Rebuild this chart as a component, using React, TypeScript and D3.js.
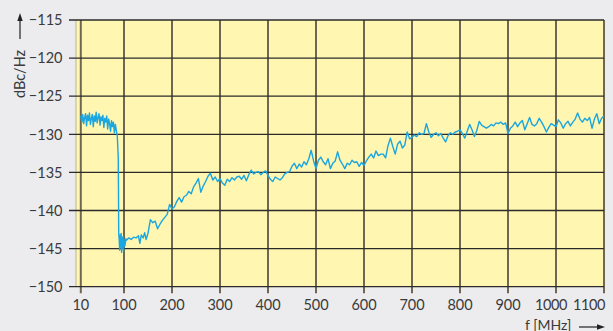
import React from "react";
import * as d3 from "d3";

const xTicks = [10, 100, 200, 300, 400, 500, 600, 700, 800, 900, 1000, 1100];
const yTicks = [-115, -120, -125, -130, -135, -140, -145, -150];

const freqMHz = [
  10, 12, 14, 16, 18, 20, 22, 24, 26, 28, 30, 32, 34, 36, 38, 40, 42, 44, 46, 48,
  50, 52, 54, 56, 58, 60, 62, 64, 66, 68, 70, 72, 74, 76, 78, 80, 82, 84,
  86, 87, 88, 88.5, 89, 90, 91, 92, 93, 94, 95, 96, 97, 98, 99, 100, 102, 104,
  105, 110, 115, 120, 125, 130, 133, 136, 140, 143, 146,
  150, 155, 160, 165, 170, 175, 180, 185, 190, 195, 200, 205, 210, 215, 220, 225, 230, 235, 240, 245,
  250, 255, 260, 265, 270, 275, 280, 285, 290, 295, 300, 305, 310, 315, 320, 325, 330, 335, 340, 345,
  350, 355, 360, 365, 370, 375, 380, 385, 390, 395, 400, 405, 410, 415, 420, 425, 430, 435, 440, 445,
  450, 455, 460, 465, 470, 475, 480, 485, 490, 495, 500, 505, 510, 515, 520, 525, 530, 535, 540, 545,
  550, 555, 560, 565, 570, 575, 580, 585, 590, 595, 600, 605, 610, 615, 620, 625, 630, 635, 640, 645,
  650, 655, 660, 665, 670, 675, 680, 685, 690, 695, 700, 705, 710, 715, 720, 725, 730, 735, 740, 745,
  750, 755, 760, 765, 770, 775, 780, 785, 790, 795, 800, 805, 810, 815, 820, 825, 830, 835, 840, 845,
  850, 855, 860, 865, 870, 875, 880, 885, 890, 895, 900, 905, 910, 915, 920, 925, 930, 935, 940, 945,
  950, 955, 960, 965, 970, 975, 980, 985, 990, 995, 1000, 1005, 1010, 1015, 1020, 1025, 1030, 1035, 1040, 1045,
  1050, 1055, 1060, 1065, 1070, 1075, 1080, 1085, 1090, 1095, 1100,
];

const noiseDbcHz = [
  -127.6, -128.4, -127.4, -128.6, -127.8, -127.3, -128.9, -127.5, -128.2, -127.2, -128.7, -127.9, -127.4, -129.0, -127.6, -128.3, -127.1, -128.5, -127.8, -127.3,
  -128.8, -127.7, -128.2, -127.5, -129.1, -127.9, -128.4, -127.6, -129.3, -128.0, -128.6, -129.6, -128.2, -129.0, -128.4, -129.8, -128.7, -129.5,
  -130.2, -131.5, -133.0, -137.0, -143.0, -143.8, -145.2, -143.2, -144.8, -143.0, -145.5, -143.6, -144.9, -143.4, -145.3, -143.8, -144.6, -143.7,
  -143.9, -143.6, -143.8, -143.5, -143.6, -143.3, -144.3, -143.2, -143.6, -142.9, -143.8,
  -143.0, -141.2, -141.6, -141.4, -142.4, -141.8, -141.3, -140.9, -140.5, -139.2, -139.8, -139.5, -138.8, -138.3, -138.9, -138.2, -138.0, -137.5, -137.8, -136.9,
  -136.4, -135.8, -137.6, -136.8, -136.2, -135.5, -135.1, -136.0, -135.6, -136.2, -135.8, -136.4, -136.7, -135.9, -136.2, -135.7, -136.0, -135.6, -135.5, -135.9,
  -135.4, -136.1, -135.3, -134.7, -135.2, -135.0, -134.9, -135.3, -135.0, -134.8, -135.4, -135.9, -136.2, -135.6, -135.8, -136.0, -135.7, -135.2, -135.0, -134.9,
  -134.2, -133.8, -134.5, -133.9, -134.3, -133.6, -134.0, -133.2, -132.1, -133.5, -134.5, -133.4, -133.0, -133.6, -134.0, -133.2, -134.5, -133.8, -133.5, -132.3,
  -133.4, -133.9, -134.5, -133.8, -134.0, -133.4, -133.7, -133.6, -134.2, -133.7, -134.1, -133.5, -133.0, -132.6, -133.1, -132.2, -132.8, -132.6, -132.6, -133.1,
  -131.5, -130.5, -131.6, -132.6, -131.3, -130.9, -131.8, -131.4, -129.7, -130.6, -130.4, -130.1, -130.3, -129.8, -130.0, -129.9, -128.6, -129.7, -130.4, -130.0,
  -129.8, -130.2, -129.9, -130.5, -131.0, -130.2, -129.8, -130.0, -129.7, -129.6, -129.4, -129.9, -130.5, -129.6, -128.7, -129.4, -130.3, -129.5, -128.3, -128.8,
  -129.0, -129.2, -129.0, -128.7, -128.9, -128.5, -128.6, -128.4, -128.7, -128.5, -129.9, -129.2, -128.9, -128.4, -129.0, -128.5, -128.2, -129.4, -128.6, -127.8,
  -128.7, -128.9, -128.6, -127.9, -128.4, -129.0, -129.7, -129.1, -128.6, -128.8, -129.0, -128.1, -128.5, -129.2, -128.6, -128.3, -128.9, -128.4, -128.0, -127.2,
  -128.0, -128.4, -127.9, -128.2, -127.8, -129.2, -128.0, -127.3, -128.6, -127.9, -127.6,
];

const W = 613;
const H = 331;
const plot = { left: 76, right: 604, top: 20, bottom: 286.7 };
const FONT = "Lato, 'Open Sans', sans-serif";

export default function App() {
  const x = d3.scaleLinear().domain([0, 1100]).range([plot.left, plot.right]);
  const y = d3.scaleLinear().domain([-150, -115]).range([plot.bottom, plot.top]);
  const pts = freqMHz.map((f, i) => [f, noiseDbcHz[i]] as [number, number]);
  const line = d3
    .line<[number, number]>()
    .x((d) => x(d[0]))
    .y((d) => y(d[1]));
  const n = xTicks.length;

  const labelX = (t: number, i: number) =>
    i === n - 1 ? x(t) + 1 : i === n - 2 ? x(t) - 5 : x(t);

  return (
    <svg
      width={W}
      height={H}
      style={{ position: "absolute", left: 0, top: 0, display: "block" }}
      fontFamily={FONT}
    >
      <rect x={0} y={0} width={W} height={H} fill="#ececee" />
      <rect
        x={plot.left}
        y={plot.top}
        width={plot.right - plot.left}
        height={plot.bottom - plot.top}
        fill="#fff6b2"
      />
      <line x1={plot.left} x2={plot.left} y1={plot.top} y2={plot.bottom} stroke="#b9b39a" strokeWidth={1} />
      {xTicks.map((t, i) => (
        <g key={"x" + t}>
          <line
            x1={x(t)}
            x2={x(t)}
            y1={plot.top}
            y2={plot.bottom + 6.5}
            stroke="#6f6750"
            strokeWidth={2}
          />
          <text
            x={labelX(t, i)}
            y={309.5}
            textAnchor={i === n - 1 ? "end" : "middle"}
            fontSize={14.5}
            letterSpacing={i >= n - 2 ? -0.4 : 0}
            fill="#3a3a3a"
          >
            {t}
          </text>
        </g>
      ))}
      {yTicks.map((t) => (
        <g key={"y" + t}>
          <line
            x1={69}
            x2={plot.right}
            y1={y(t)}
            y2={y(t)}
            stroke="#2b2b2b"
            strokeWidth={1.3}
          />
          <text
            x={62.5}
            y={y(t)}
            dy="0.36em"
            textAnchor="end"
            fontSize={14.5}
            fill="#3a3a3a"
          >
            {"\u2212" + Math.abs(t)}
          </text>
        </g>
      ))}
      <path d={line(pts) || ""} fill="none" stroke="#1aa6e0" strokeWidth={1.4} strokeLinejoin="round" />

      {/* y axis title with arrow */}
      <text
        transform="translate(25,74) rotate(-90)"
        textAnchor="middle"
        fontSize={14.5}
        fill="#3a3a3a"
      >
        dBc/Hz
      </text>
      <line x1={20} x2={20} y1={39} y2={19} stroke="#222" strokeWidth={1.2} />
      <path d="M20,13 L17.3,21 L22.7,21 Z" fill="#222" />

      {/* x axis title with arrow */}
      <text x={525} y={330} fontSize={14} fill="#3a3a3a">
        f [MHz]
      </text>
      <line x1={579} x2={598} y1={327} y2={327} stroke="#222" strokeWidth={1.2} />
      <path d="M605,327 L597,324.3 L597,329.7 Z" fill="#222" />
    </svg>
  );
}
